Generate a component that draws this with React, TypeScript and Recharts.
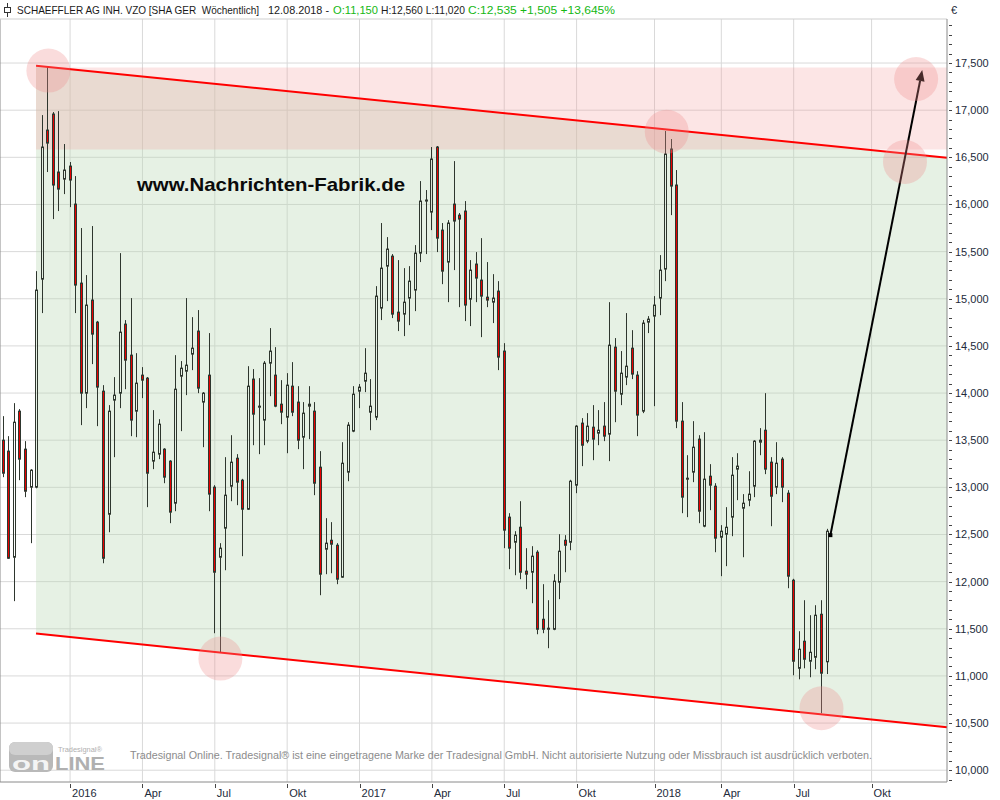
import React from 'react';
import {
  ComposedChart, Bar, Area, XAxis, YAxis, CartesianGrid,
  ReferenceLine, ReferenceArea, ReferenceDot,
} from 'recharts';

// Weekly candles [open, high, low, close], week of 05.10.2015 .. week of 06.08.2018
const ohlc: number[][] = [
  [13500,13755,13108,13150],[13384,13543,12240,12248],[12259,13893,11793,13691],[13808,13830,13076,13299],
  [13405,13490,12896,12959],[13002,13193,12408,13182],[13002,15293,12990,15092],[15208,16948,14848,16609],
  [16789,17458,16344,16651],[16959,16980,15845,16206],[16344,16990,15930,16163],[16269,16641,16110,16365],
  [16407,16450,15972,16259],[16004,16301,14848,15145],[15166,15750,13660,13999],[13999,15251,13840,14933],
  [14986,15771,14307,14625],[14752,14765,13649,14063],[14020,14084,12195,12248],[12715,13872,12524,13808],
  [13925,14169,13320,13978],[13999,15484,13840,14646],[14731,14774,14041,14349],[14402,15007,13543,13713],
  [13808,14423,13532,14105],[14190,14275,13946,14137],[14158,14170,12790,13150],[13278,13819,13193,13373],
  [13352,13723,13299,13670],[13405,13415,13044,13108],[13278,13288,12620,12737],[12832,14402,12747,14041],
  [14179,14339,13596,14264],[14232,15007,13978,14296],[14413,14805,14243,14476],[14657,14880,13999,14052],
  [13904,14010,13426,13999],[14190,14636,12747,12928],[13002,13023,11453,12100],[12259,12408,11251,12355],
  [12567,13320,12121,12917],[13012,13553,12853,13267],[13309,13352,12811,13055],[13076,13090,12270,12768],
  [12768,14285,12760,14073],[14148,14254,13447,13776],[13850,14158,13352,13861],[13713,14339,13447,14317],
  [14317,14689,13967,14445],[14190,14487,13850,13861],[13882,14137,13670,13797],[13744,14211,13362,14084],
  [14073,14328,13755,13797],[13904,14073,13405,13500],[13532,13904,13193,13787],[13882,14073,13511,13861],
  [13808,13904,12917,13044],[13214,13384,11856,12079],[12344,12673,12079,12408],[12439,12631,12089,12397],
  [12386,12408,11973,12026],[12047,13479,12040,13256],[13161,13691,13065,13660],[13596,14073,13585,13988],
  [14020,14095,13840,14063],[14126,14476,14010,14211],[13797,14148,13606,13861],[13744,15134,13713,15028],
  [14901,15803,14774,15325],[15346,15654,14975,15527],[15452,15474,14795,14837],[14858,15410,14657,14763],
  [14837,15325,14604,14964],[15007,15346,14720,15187],[15092,15569,14869,15484],[15484,16248,15389,16036],
  [16036,16153,15474,16047],[15919,16609,15728,16482],[16609,16620,15495,15643],[15728,15803,15155,15293],
  [15389,15834,14964,15803],[16004,16460,15304,15824],[15887,15909,14911,15845],[15930,16036,14763,14933],
  [14996,15410,14710,15304],[15368,15495,14964,15219],[15198,15643,14593,15028],[15017,15389,14911,14986],
  [14964,15261,14742,15007],[15081,15187,14243,14381],[14445,14529,12355,12546],[12684,12726,12132,12355],
  [12418,12535,12068,12493],[12577,12853,12026,12100],[12111,12355,11920,12079],[12100,12376,11771,12270],
  [12312,12333,11442,11495],[11601,11973,11453,11495],[11495,11803,11294,11506],[11495,12079,11485,12005],
  [11994,12503,11814,12323],[12439,12493,12100,12386],[12418,13080,12333,13065],[13023,13660,12938,13649],
  [13681,13734,13225,13447],[13490,13787,13468,13649],[13638,13872,13288,13511],[13575,13819,13447,13606],
  [13649,13904,13490,13543],[13564,14964,13278,14508],[14487,14583,13691,14020],[13988,14445,13872,14211],
  [14169,14848,14084,14285],[14476,14667,14148,14201],[14190,14232,13543,13766],[13808,14774,13787,14742],
  [14752,14816,14636,14784],[14816,15028,13861,14933],[15007,15463,14826,15304],[15315,16779,15187,16535],
  [16588,16694,15887,16195],[16206,16365,13628,13702],[13702,13904,12726,12896],[13097,13341,12684,13087],
  [13161,13702,13055,13426],[13511,13553,12620,12747],[12588,13585,12577,13087],[13118,13246,12758,13023],
  [13012,13044,12312,12461],[12471,12599,12058,12535],[12503,12790,12164,12577],[12684,13320,12482,13129],
  [13193,13362,12864,13225],[12779,12928,12259,12832],[12864,13171,12800,12928],[13012,13500,12896,13490],
  [13479,13628,13341,13500],[13606,13999,13140,13193],[13267,13320,12588,12906],[13002,13479,12928,13256],
  [13299,13320,12843,13002],[12938,12970,11930,12058],[12015,12030,11007,11156],[11081,11474,10964,11283],
  [11368,11803,11081,11177],[11156,11644,10986,11251],[11198,11750,11071,11644],[11654,11803,10604,11029],
  [11150,12560,11020,12535],
];

// x axis: quarter ticks at candle indices
const xTickIdx = [12, 25, 38, 51, 64, 77, 90, 103, 117, 129, 142, 156];
const xTickLabels = ['2016', 'Apr', 'Jul', 'Okt', '2017', 'Apr', 'Jul', 'Okt', '2018', 'Apr', 'Jul', 'Okt'];

// y axis
const yMajor = [10000, 10500, 11000, 11500, 12000, 12500, 13000, 13500, 14000, 14500, 15000, 15500, 16000, 16500, 17000, 17500];
const yDomain = [9875, 17967];
const xDomain = [-0.593, 169.55];

// trend channel
const channelX = [5.88, 169.55];
const channelHigh = [17471, 16495];
const channelLow = [11450, 10455];
// resistance zone
const zoneLow = 16583;
const zoneHigh = 17453;

// highlight circles
const circleX = [8.1, 39.0, 119.2, 162.0, 164.0, 147.0];
const circleY = [17420, 11184, 16771, 16450, 17330, 10657];

// arrow
const arrowX = [148.6, 165.1];
const arrowY = [12493, 17426];

const headerParts = [
  { t: 'SCHAEFFLER AG INH. VZO [SHA GER  Wöchentlich]', x: 17, w: 242, c: '#1a1a1a' },
  { t: '12.08.2018 -', x: 268, w: 61, c: '#1a1a1a' },
  { t: 'O:11,150', x: 333, w: 45, c: '#14b814' },
  { t: 'H:12,560 L:11,020', x: 381, w: 84, c: '#1a1a1a' },
  { t: 'C:12,535 +1,505 +13,645%', x: 468, w: 147, c: '#14b814' },
];
const footerText = 'Tradesignal Online. Tradesignal® ist eine eingetragene Marke der Tradesignal GmbH. Nicht autorisierte Nutzung oder Missbrauch ist ausdrücklich verboten.';
const watermark = 'www.Nachrichten-Fabrik.de';

const FONT = '"Liberation Sans", Arial, sans-serif';
const DARK = '#2e362e';
const RED = '#e80000';

const data = ohlc.map(([o, h, l, c], i) => ({ i, o, h, l, c, range: [l, h] }));
const channelData = channelX.map((x, k) => ({ i: x, band: [channelLow[k], channelHigh[k]] }));

const yTicks: number[] = [];
for (let v = 9900; v <= 17900; v += 100) yTicks.push(v);

const Candle = (props: any) => {
  const { x, y, width, height, payload } = props;
  const { o, h, l, c } = payload;
  const cx = Math.floor(x + width / 2) + 0.5;
  const yv = (v: number) => y + ((h - v) / (h - l)) * height;
  const top = yv(Math.max(o, c));
  let bot = yv(Math.min(o, c));
  if (bot - top < 1) bot = top + 1;
  const up = c >= o;
  return (
    <g>
      <line x1={cx} x2={cx} y1={y} y2={top} stroke={DARK} strokeWidth={1} />
      <line x1={cx} x2={cx} y1={bot} y2={y + height} stroke={DARK} strokeWidth={1} />
      <rect x={cx - 1} y={top} width={2} height={bot - top} fill={up ? 'none' : RED} stroke={DARK} strokeWidth={1} />
    </g>
  );
};

const YTick = (props: any) => {
  const { x, y, payload } = props;
  const v = payload.value;
  const major = v % 500 === 0;
  const yy = Math.round(y) + 0.5;
  return (
    <g>
      <line x1={x + 2} x2={x + 5} y1={yy} y2={yy} stroke="#444" strokeWidth={1} />
      {major && (
        <text x={x + 8} y={y + 4} fontSize={11} fontFamily={FONT} fill="#222a3a">
          {v.toLocaleString('en-US')}
        </text>
      )}
    </g>
  );
};

const XTick = (props: any) => {
  const { x, y, payload } = props;
  const k = xTickIdx.indexOf(payload.value);
  const xx = Math.round(x) + 0.5;
  return (
    <g>
      <line x1={xx} x2={xx} y1={y + 2} y2={y + 6} stroke="#444" strokeWidth={1} />
      <text x={x + 2} y={y + 15} fontSize={11} fontFamily={FONT} fill="#222a3a">
        {k >= 0 ? xTickLabels[k] : ''}
      </text>
    </g>
  );
};

const ArrowShape = (props: any) => {
  const { x1, y1, x2, y2 } = props;
  const ang = Math.atan2(y2 - y1, x2 - x1);
  const L = 11, W = 4.5;
  const bx = x2 - L * Math.cos(ang), by = y2 - L * Math.sin(ang);
  const px = -Math.sin(ang) * W, py = Math.cos(ang) * W;
  return (
    <g>
      <line x1={x1} y1={y1} x2={bx} y2={by} stroke="#000" strokeWidth={2} />
      <polygon points={`${x2},${y2} ${bx + px},${by + py} ${bx - px},${by - py}`} fill="#000" />
      <rect x={x1 - 2} y={y1 - 2} width={4} height={4} fill="#000" />
    </g>
  );
};

export default function App() {
  return (
    <div style={{ position: 'absolute', left: 0, top: 0, width: 1000, height: 800, background: '#fff', overflow: 'hidden' }}>
      <ComposedChart width={1000} height={800} data={data} margin={{ top: 19, right: 0, bottom: 0, left: 0 }}>
        <CartesianGrid stroke="#d9d9d9" horizontalValues={yMajor} verticalValues={xTickIdx} />
        <XAxis
          dataKey="i" type="number" domain={xDomain} allowDataOverflow ticks={xTickIdx} interval={0}
          tick={<XTick />} tickLine={false} tickSize={0} tickMargin={0} height={18}
          axisLine={{ stroke: '#8a8a8a' }}
        />
        <YAxis
          orientation="right" type="number" domain={yDomain} allowDataOverflow ticks={yTicks} interval={0}
          tick={<YTick />} tickLine={false} tickSize={0} tickMargin={0} width={53}
          axisLine={{ stroke: '#8a8a8a' }}
        />
        <Area data={channelData} dataKey="band" type="linear" fill="rgb(186,216,180)" fillOpacity={0.36} stroke="none" isAnimationActive={false} />
        <ReferenceArea x1={channelX[0]} x2={channelX[1]} y1={zoneLow} y2={zoneHigh} fill="rgb(245,150,150)" fillOpacity={0.25} stroke="none" />
        <ReferenceLine x={xDomain[0]} stroke="#8a8a8a" />
        <ReferenceLine y={yDomain[1]} stroke="#cfcfcf" />
        <Bar dataKey="range" barSize={5} shape={<Candle />} isAnimationActive={false} />
        {circleX.map((cx, k) => (
          <ReferenceDot key={k} x={cx} y={circleY[k]} r={22} fill="rgb(240,140,140)" fillOpacity={0.3} stroke="none" />
        ))}
        <ReferenceLine segment={[{ x: channelX[0], y: channelHigh[0] }, { x: channelX[1], y: channelHigh[1] }]} stroke="#ff0000" strokeWidth={2} />
        <ReferenceLine segment={[{ x: channelX[0], y: channelLow[0] }, { x: channelX[1], y: channelLow[1] }]} stroke="#ff0000" strokeWidth={2} />
        <ReferenceLine segment={[{ x: arrowX[0], y: arrowY[0] }, { x: arrowX[1], y: arrowY[1] }]} shape={<ArrowShape />} />
      </ComposedChart>
      <svg width={1000} height={800} style={{ position: 'absolute', left: 0, top: 0, pointerEvents: 'none' }}>
        <line x1={7.5} x2={7.5} y1={3} y2={17} stroke="#333" />
        <rect x={4.5} y={7.5} width={6} height={5} fill="#fff" stroke="#333" />
        {headerParts.map((p, k) => (
          <text key={k} x={p.x} y={14} fontSize={10.5} fontFamily={FONT} fill={p.c} textLength={p.w} lengthAdjust="spacingAndGlyphs" xmlSpace="preserve">{p.t}</text>
        ))}
        <text x={951} y={14} fontSize={11} fontFamily={FONT} fill="#222a3a">€</text>
        <text x={137} y={191} fontSize={19} fontWeight="bold" fontFamily={FONT} fill="#0a0a0a" textLength={268} lengthAdjust="spacingAndGlyphs">{watermark}</text>
        <rect x={9} y={742} width={44} height={30} rx={6} fill="#b9b9b9" />
        <rect x={9} y={742} width={44} height={13} rx={6} fill="#cfcfcf" />
        <text x={12} y={770} fontSize={19} fontWeight="bold" fontFamily={FONT} fill="#f4f4f4" textLength={38} lengthAdjust="spacingAndGlyphs">on</text>
        <text x={55} y={770} fontSize={19} fontWeight="bold" fontFamily={FONT} fill="#b0b0b0" textLength={50} lengthAdjust="spacingAndGlyphs">LINE</text>
        <text x={58} y={752} fontSize={8} fontFamily={FONT} fill="#b0b0b0" textLength={44} lengthAdjust="spacingAndGlyphs">Tradesignal®</text>
        <text x={130} y={759} fontSize={11} fontFamily={FONT} fill="#8c8c8c" textLength={742} lengthAdjust="spacingAndGlyphs">{footerText}</text>
      </svg>
    </div>
  );
}
